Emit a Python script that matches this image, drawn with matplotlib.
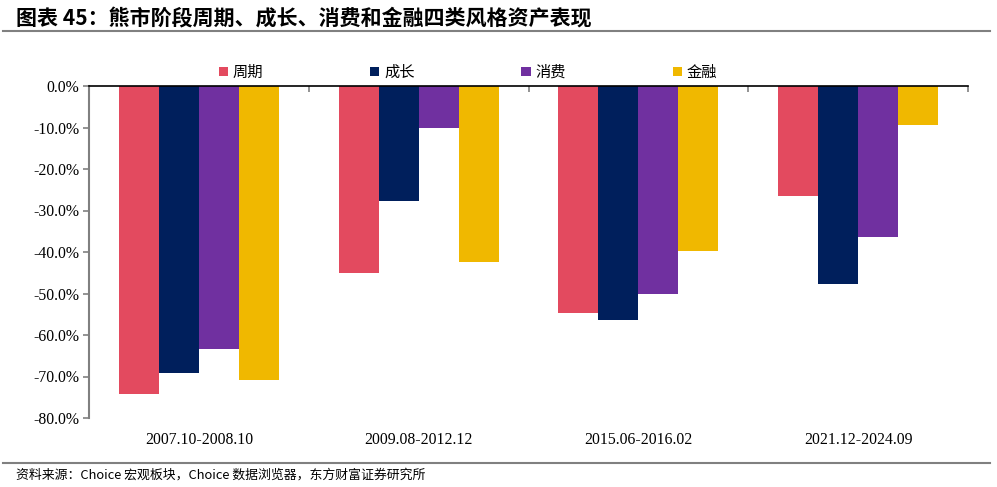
import matplotlib
matplotlib.use("Agg")
import matplotlib.pyplot as plt
import numpy as np
from matplotlib.ticker import FuncFormatter
from matplotlib.lines import Line2D

categories = ["2007.10-2008.10", "2009.08-2012.12", "2015.06-2016.02", "2021.12-2024.09"]
series_names = ["周期", "成长", "消费", "金融"]
cycle = [-74.2, -45.1, -54.7, -26.5]
growth = [-69.2, -27.7, -56.4, -47.7]
consumer = [-63.4, -10.1, -50.1, -36.4]
finance = [-70.8, -42.4, -39.8, -9.4]
yticks = [0, -10, -20, -30, -40, -50, -60, -70, -80]

colors = ["#E34A5F", "#001F5C", "#7030A0", "#F0B800"]
values = [cycle, growth, consumer, finance]

cjk = ["Noto Sans CJK SC", "DejaVu Sans"]
serif = "Liberation Serif"

fig = plt.figure(figsize=(9.97, 4.87), dpi=100)
ax = fig.add_axes([89/997, 1-418/487, (968-89)/997, (418-86)/487])

x = np.arange(len(categories))
w = 0.182
for i, (name, vals, c) in enumerate(zip(series_names, values, colors)):
    ax.bar(x + (i - 1.5) * w, vals, width=w, color=c, label=name, zorder=2)

ax.set_xlim(-0.5, len(categories) - 0.5)
ax.set_ylim(-80, 0)
ax.set_yticks(yticks)
ax.yaxis.set_major_formatter(FuncFormatter(lambda v, p: f"{v:.1f}%"))
ax.set_xticks(x)
ax.set_xticklabels(categories)
ax.tick_params(axis="x", length=0, pad=10, labelsize=11.3)
ax.tick_params(axis="y", length=4, width=1.2, color="#808080", labelsize=11.3, pad=3, direction="out")
for lab in ax.get_xticklabels() + ax.get_yticklabels():
    lab.set_fontfamily(serif)

ax.spines["bottom"].set_visible(False)
ax.spines["right"].set_visible(False)
ax.spines["top"].set_color("black")
ax.spines["top"].set_linewidth(1.2)
ax.spines["top"].set_zorder(3)
ax.spines["left"].set_color("#808080")
ax.spines["left"].set_linewidth(1.5)

sec = ax.secondary_xaxis("top")
sec.set_xticks(np.arange(len(categories) + 1) - 0.5)
sec.tick_params(axis="x", direction="in", length=4, width=1.2, color="#808080", labelsize=0)
sec.set_xticklabels([])
sec.spines["top"].set_visible(False)

leg = ax.legend(loc="lower left", bbox_to_anchor=(0.1375, 0.988), ncol=4, frameon=False,
                prop={"family": cjk, "size": 11}, handlelength=0.6, handleheight=0.6,
                handletextpad=0.3, columnspacing=7.0, borderaxespad=0.2)

fig.text(0.016, 0.963, "图表 45：熊市阶段周期、成长、消费和金融四类风格资产表现",
         family=cjk, fontsize=15.1, fontweight="bold", va="center", ha="left")
fig.add_artist(Line2D([0.003, 0.993], [1-31/487, 1-31/487], color="#808080", lw=1.5))
fig.add_artist(Line2D([0.003, 0.993], [1-463/487, 1-463/487], color="#808080", lw=1.5))
fig.text(0.016, 1-475/487, "资料来源：Choice 宏观板块，Choice 数据浏览器，东方财富证券研究所",
         family=cjk, fontsize=9.3, va="center", ha="left")

fig.savefig("out.png", dpi=100)
